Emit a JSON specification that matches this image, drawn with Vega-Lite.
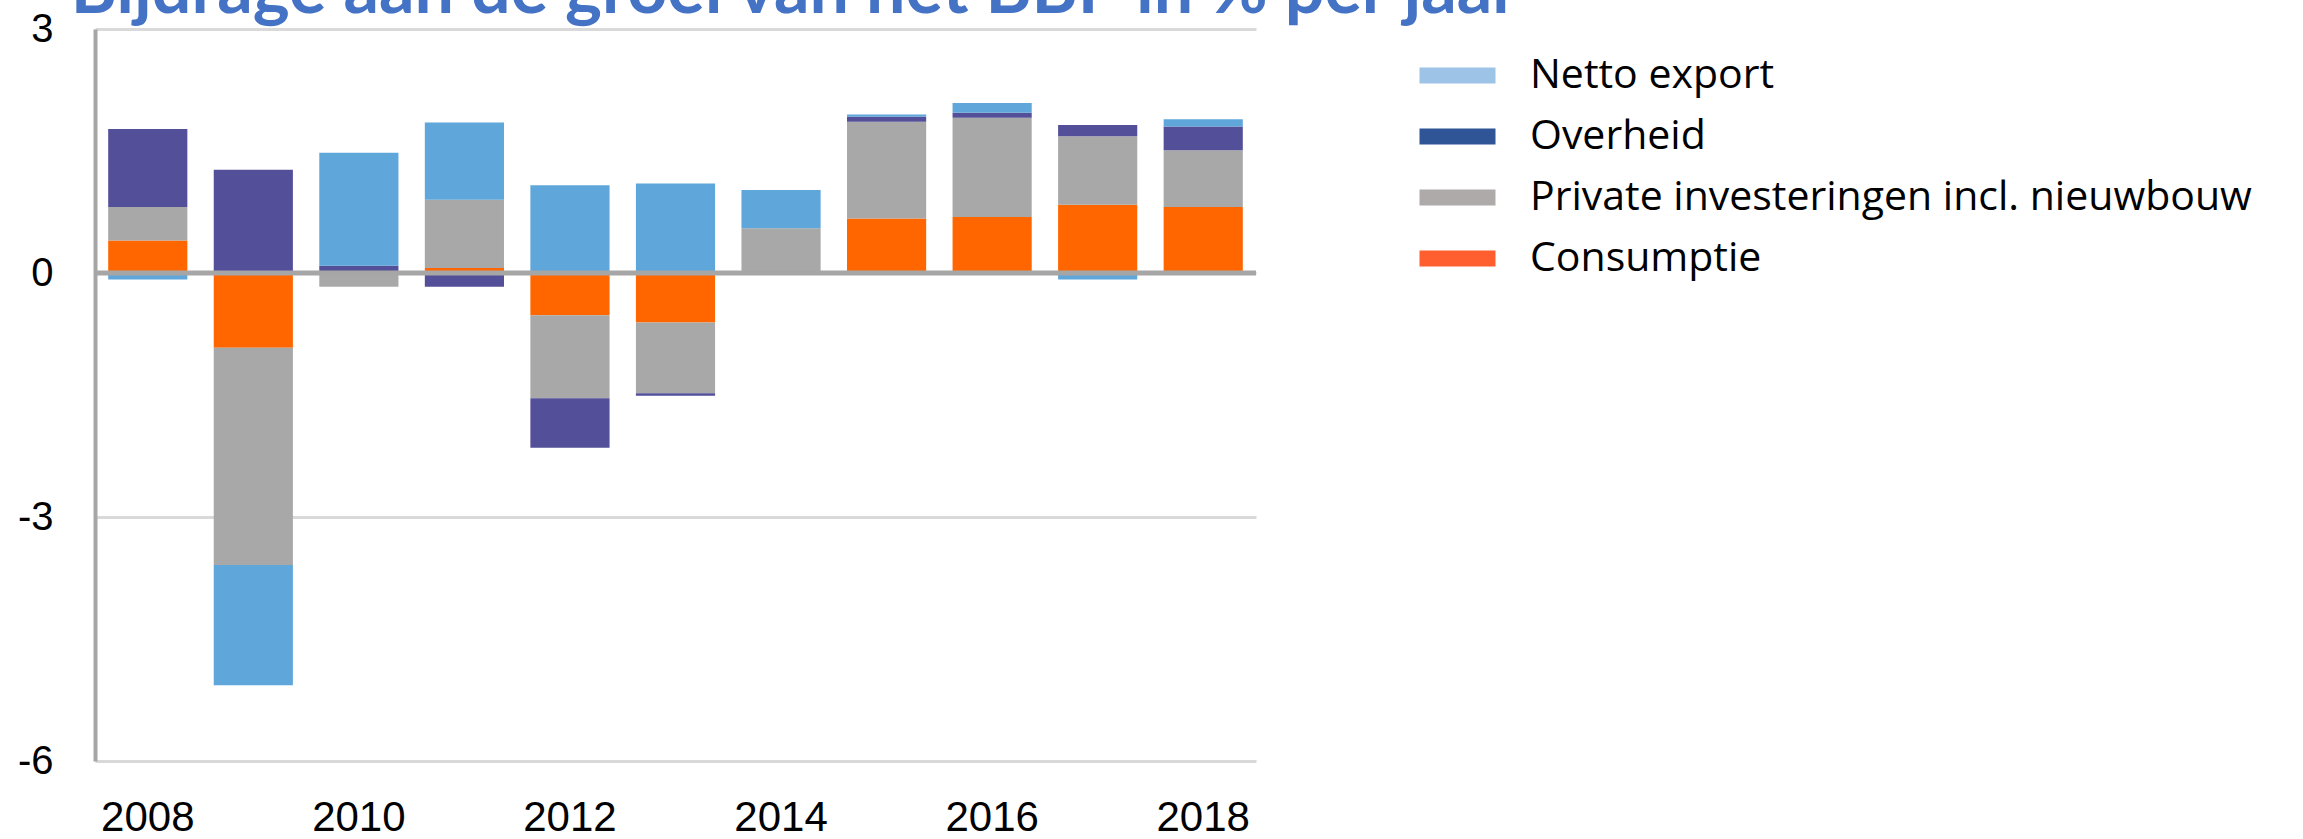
{
  "$schema": "https://vega.github.io/schema/vega-lite/v6.json",
  "width": 1161,
  "height": 732,
  "autosize": {"type": "none"},
  "padding": {"left": 95, "top": 29, "right": 1047, "bottom": 78},
  "background": "white",
  "config": {"view": {"stroke": null}, "font": "Liberation Sans"},
  "data": {
    "values": [
      {"year": 2008, "component": "Consumptie", "rank": 1, "value": 0.40},
      {"year": 2008, "component": "Private investeringen incl. nieuwbouw", "rank": 2, "value": 0.41},
      {"year": 2008, "component": "Overheid", "rank": 3, "value": 0.96},
      {"year": 2008, "component": "Netto export", "rank": 4, "value": -0.08},
      {"year": 2009, "component": "Consumptie", "rank": 1, "value": -0.92},
      {"year": 2009, "component": "Private investeringen incl. nieuwbouw", "rank": 2, "value": -2.67},
      {"year": 2009, "component": "Overheid", "rank": 3, "value": 1.27},
      {"year": 2009, "component": "Netto export", "rank": 4, "value": -1.48},
      {"year": 2010, "component": "Consumptie", "rank": 1, "value": 0.0},
      {"year": 2010, "component": "Private investeringen incl. nieuwbouw", "rank": 2, "value": -0.17},
      {"year": 2010, "component": "Overheid", "rank": 3, "value": 0.09},
      {"year": 2010, "component": "Netto export", "rank": 4, "value": 1.39},
      {"year": 2011, "component": "Consumptie", "rank": 1, "value": 0.06},
      {"year": 2011, "component": "Private investeringen incl. nieuwbouw", "rank": 2, "value": 0.84},
      {"year": 2011, "component": "Overheid", "rank": 3, "value": -0.17},
      {"year": 2011, "component": "Netto export", "rank": 4, "value": 0.95},
      {"year": 2012, "component": "Consumptie", "rank": 1, "value": -0.52},
      {"year": 2012, "component": "Private investeringen incl. nieuwbouw", "rank": 2, "value": -1.02},
      {"year": 2012, "component": "Overheid", "rank": 3, "value": -0.61},
      {"year": 2012, "component": "Netto export", "rank": 4, "value": 1.08},
      {"year": 2013, "component": "Consumptie", "rank": 1, "value": -0.61},
      {"year": 2013, "component": "Private investeringen incl. nieuwbouw", "rank": 2, "value": -0.87},
      {"year": 2013, "component": "Overheid", "rank": 3, "value": -0.03},
      {"year": 2013, "component": "Netto export", "rank": 4, "value": 1.10},
      {"year": 2014, "component": "Consumptie", "rank": 1, "value": 0.0},
      {"year": 2014, "component": "Private investeringen incl. nieuwbouw", "rank": 2, "value": 0.55},
      {"year": 2014, "component": "Overheid", "rank": 3, "value": 0.0},
      {"year": 2014, "component": "Netto export", "rank": 4, "value": 0.47},
      {"year": 2015, "component": "Consumptie", "rank": 1, "value": 0.67},
      {"year": 2015, "component": "Private investeringen incl. nieuwbouw", "rank": 2, "value": 1.19},
      {"year": 2015, "component": "Overheid", "rank": 3, "value": 0.06},
      {"year": 2015, "component": "Netto export", "rank": 4, "value": 0.03},
      {"year": 2016, "component": "Consumptie", "rank": 1, "value": 0.69},
      {"year": 2016, "component": "Private investeringen incl. nieuwbouw", "rank": 2, "value": 1.22},
      {"year": 2016, "component": "Overheid", "rank": 3, "value": 0.06},
      {"year": 2016, "component": "Netto export", "rank": 4, "value": 0.12},
      {"year": 2017, "component": "Consumptie", "rank": 1, "value": 0.84},
      {"year": 2017, "component": "Private investeringen incl. nieuwbouw", "rank": 2, "value": 0.84},
      {"year": 2017, "component": "Overheid", "rank": 3, "value": 0.14},
      {"year": 2017, "component": "Netto export", "rank": 4, "value": -0.08},
      {"year": 2018, "component": "Consumptie", "rank": 1, "value": 0.81},
      {"year": 2018, "component": "Private investeringen incl. nieuwbouw", "rank": 2, "value": 0.70},
      {"year": 2018, "component": "Overheid", "rank": 3, "value": 0.29},
      {"year": 2018, "component": "Netto export", "rank": 4, "value": 0.09}
    ]
  },
  "layer": [
    {
      "mark": {"type": "bar"},
      "encoding": {
        "x": {
          "field": "year",
          "type": "ordinal",
          "scale": {"paddingInner": 0.25, "paddingOuter": 0.125},
          "axis": {
            "values": [2008, 2010, 2012, 2014, 2016, 2018],
            "title": null,
            "domain": false,
            "ticks": false,
            "grid": false,
            "labelAngle": 0,
            "labelFont": "Liberation Sans",
            "labelFontSize": 42,
            "labelColor": "#000000",
            "labelPadding": 36
          }
        },
        "y": {
          "field": "value",
          "type": "quantitative",
          "stack": "zero",
          "scale": {"domain": [-6, 3], "nice": false, "zero": false},
          "axis": {
            "values": [-6, -3, 0, 3],
            "labelExpr": "'' + datum.value",
            "title": null,
            "grid": true,
            "gridColor": "#D9D9D9",
            "gridWidth": 3,
            "domainColor": "#A6A6A6",
            "domainWidth": 4,
            "ticks": false,
            "labelFont": "Liberation Sans",
            "labelFontSize": 40,
            "labelColor": "#000000",
            "labelPadding": 42
          }
        },
        "color": {
          "field": "component",
          "type": "nominal",
          "scale": {
            "domain": ["Netto export", "Overheid", "Private investeringen incl. nieuwbouw", "Consumptie"],
            "range": ["#5FA6DA", "#534F98", "#A8A8A8", "#FF6600"]
          },
          "legend": null
        },
        "order": {"field": "rank", "type": "quantitative"}
      }
    },
    {
      "mark": {"type": "bar"},
      "encoding": {
        "x": {"field": "year", "type": "ordinal"},
        "y": {"datum": 0},
        "y2": {"datum": 0},
        "color": {
          "field": "component",
          "type": "nominal",
          "scale": {
            "domain": ["Netto export", "Overheid", "Private investeringen incl. nieuwbouw", "Consumptie"],
            "range": ["#9DC3E6", "#2F5597", "#AEAAAA", "#FF5F2E"]
          },
          "legend": {
            "orient": "none",
            "legendX": 1342,
            "legendY": 26,
            "title": null,
            "padding": 0,
            "labelFont": "Open Sans",
            "labelFontSize": 41,
            "labelColor": "#000000",
            "labelLimit": 2000,
            "symbolType": "M-2.5,-0.53L2.5,-0.53L2.5,0.53L-2.5,0.53Z",
            "symbolSize": 924,
            "symbolStrokeWidth": 0,
            "symbolOpacity": 1,
            "labelOffset": 52,
            "rowPadding": 19
          }
        }
      }
    },
    {
      "data": {"values": [{"z": 0}]},
      "mark": {"type": "rule", "color": "#A6A6A6", "strokeWidth": 5},
      "encoding": {"y": {"field": "z", "type": "quantitative"}}
    },
    {
      "data": {"values": [{"t": "Bijdrage aan de groei van het BBP in % per jaar", "year": 2008, "pos": 3.2}]},
      "mark": {
        "type": "text",
        "align": "left",
        "baseline": "alphabetic",
        "dx": -77,
        "font": "Lato",
        "fontWeight": "bold",
        "fontSize": 70,
        "color": "#4472C4"
      },
      "encoding": {
        "x": {"field": "year", "type": "ordinal"},
        "y": {"field": "pos", "type": "quantitative"},
        "text": {"field": "t"}
      }
    }
  ],
  "resolve": {"scale": {"color": "independent"}, "legend": {"color": "independent"}}
}
